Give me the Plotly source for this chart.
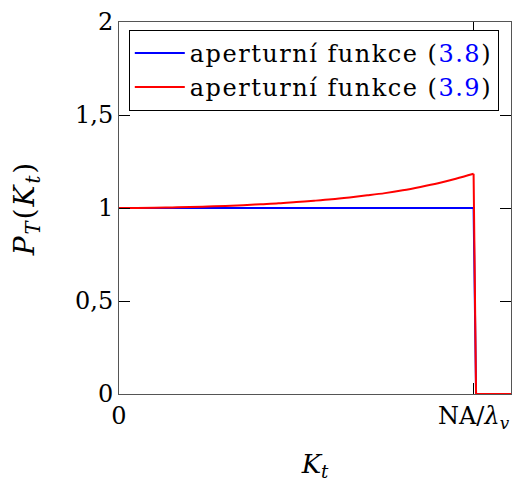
import plotly.graph_objects as go

# Normalised transverse frequency K_t / (NA/lambda_v)
kt_const = [0.0, 1.0, 1.007, 1.1055]
p_const = [1.0, 1.0, 0.0, 0.0]

# smooth part of the second aperture function, up to the cut-off
kt_var = [0.0, 0.05, 0.1, 0.15, 0.2, 0.25, 0.3, 0.35, 0.4, 0.45, 0.5,
          0.55, 0.6, 0.65, 0.7, 0.75, 0.8, 0.85, 0.9, 0.95, 1.0]
p_var = [1.000, 1.000, 1.001, 1.003, 1.005, 1.008, 1.011, 1.015, 1.020, 1.025, 1.032,
         1.039, 1.047, 1.057, 1.068, 1.080, 1.095, 1.113, 1.133, 1.157, 1.184]
# cut-off drop and the zero tail
kt_tail = [1.0, 1.007, 1.1055]
p_tail = [1.184, 0.0, 0.0]

x_tickvals = [0, 1]
x_ticktext = ["0", "NA/<i>λ</i><sub><i>v</i></sub>"]
y_tickvals = [0, 0.5, 1, 1.5, 2]
y_ticktext = ["0", "0,5", "1", "1,5", "2"]

FONT = "DejaVu Serif"
FS = 24


def spaced(text, px):
    return f'<span style="letter-spacing:{px}px">{text}</span>'


fig = go.Figure()
fig.add_trace(go.Scatter(
    x=kt_const, y=p_const, mode="lines",
    line=dict(color="#0000ff", width=2),
    name=spaced('aperturní funkce (<span style="color:#0000ff">3.8</span>)', 1.5)))
fig.add_trace(go.Scatter(
    x=kt_var, y=p_var, mode="lines",
    line=dict(color="#ff0000", width=2, shape="spline", smoothing=1),
    legendgroup="var",
    name=spaced('aperturní funkce (<span style="color:#0000ff">3.9</span>)', 1.5)))
fig.add_trace(go.Scatter(
    x=kt_tail, y=p_tail, mode="lines",
    line=dict(color="#ff0000", width=2),
    legendgroup="var", showlegend=False))

axis_common = dict(
    showgrid=False, zeroline=False, showline=True, mirror="ticks",
    linecolor="#555555", linewidth=1,
    ticks="inside", ticklen=11, tickwidth=1, tickcolor="#000000",
    tickfont=dict(family=FONT, size=FS, color="#000000"),
)

fig.update_layout(
    width=520, height=488,
    margin=dict(l=119, r=8, t=16, b=94),
    plot_bgcolor="white", paper_bgcolor="white",
    font=dict(family=FONT, size=FS, color="#000000"),
    xaxis=dict(range=[0, 1.1055], tickvals=x_tickvals, ticktext=x_ticktext,
               title=dict(text="<i>K</i><sub><i>t</i></sub>", standoff=22,
                          font=dict(family=FONT, size=FS + 2)),
               **axis_common),
    yaxis=dict(range=[0, 2], tickvals=y_tickvals, ticktext=y_ticktext,
               title=dict(text=spaced("<i>P</i><sub><i>T</i></sub>(<i>K</i><sub><i>t</i></sub>)", 2),
                          standoff=32, font=dict(family=FONT, size=FS + 4)),
               **axis_common),
    legend=dict(x=0.025, y=0.979, xanchor="left", yanchor="top",
                bordercolor="#000000", borderwidth=1, bgcolor="white",
                font=dict(family=FONT, size=FS), tracegroupgap=0,
                itemwidth=50),
    showlegend=True,
)

fig.write_html("out.html")
